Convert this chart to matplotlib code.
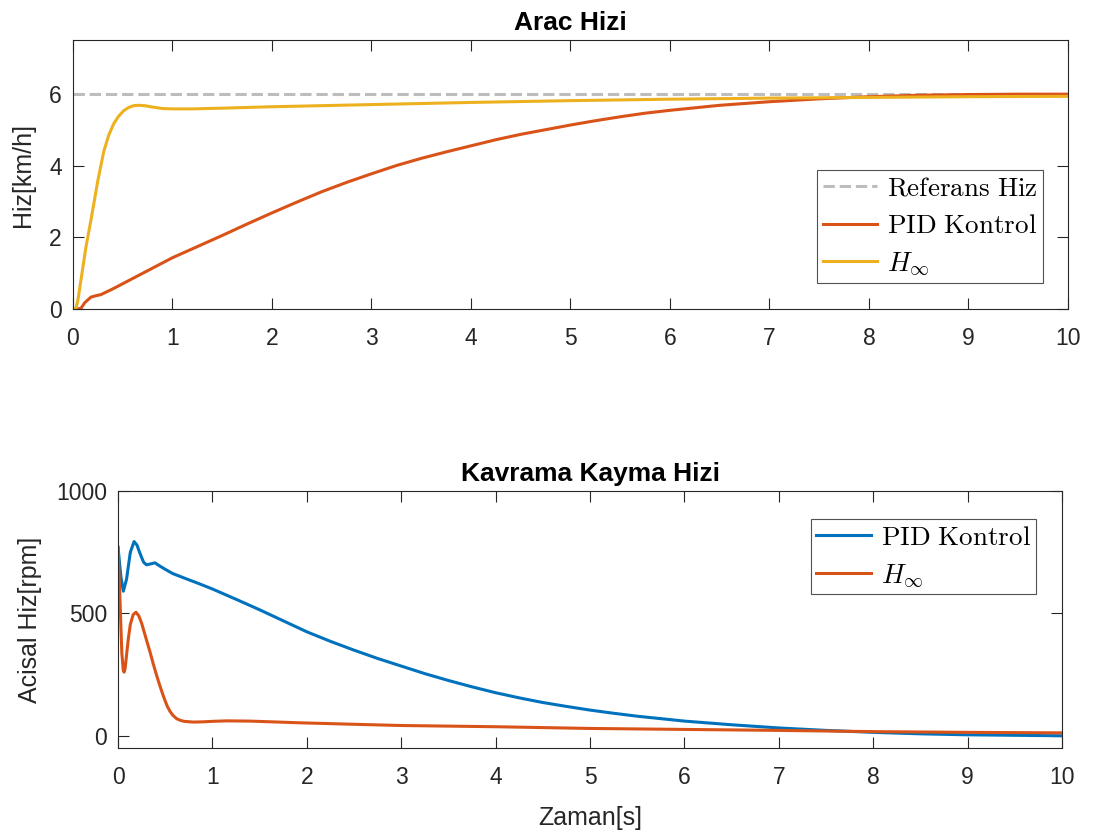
import matplotlib
matplotlib.use("Agg")
import matplotlib.pyplot as plt

# Style
plt.rcParams["font.family"] = ["Liberation Sans", "DejaVu Sans"]
plt.rcParams["mathtext.fontset"] = "cm"

c_blue = "#0072BD"
c_orange = "#D95319"
c_yellow = "#EDB120"
c_ref = "#BDBDBD"
c_axis = "#262626"

# Arac Hizi (km/h)
t_hinf_v = [0, 0.03, 0.05, 0.08, 0.13, 0.18, 0.25, 0.31, 0.36, 0.41, 0.46, 0.51, 0.56,
            0.61, 0.66, 0.72, 0.8, 0.9, 1.0, 1.2, 1.5, 2, 3, 4, 5, 6, 7, 8, 9, 10]
v_hinf = [0, 0.02, 0.25, 0.8, 1.72, 2.47, 3.58, 4.4, 4.85, 5.17, 5.38, 5.53, 5.62,
          5.67, 5.68, 5.67, 5.63, 5.59, 5.58, 5.58, 5.6, 5.64, 5.7, 5.76, 5.81,
          5.85, 5.88, 5.9, 5.92, 5.93]

t_pid_v = [0, 0.05, 0.08, 0.12, 0.18, 0.23, 0.28, 0.4, 0.6, 0.8, 1.0, 1.25, 1.5,
           1.75, 2, 2.25, 2.5, 2.75, 3, 3.25, 3.5, 3.75, 4, 4.25, 4.5, 4.75, 5,
           5.25, 5.5, 5.75, 6, 6.5, 7, 7.5, 8, 8.5, 9, 9.5, 10]
v_pid = [0, 0, 0.02, 0.18, 0.33, 0.37, 0.4, 0.56, 0.85, 1.14, 1.43, 1.74, 2.05,
         2.37, 2.68, 2.98, 3.27, 3.53, 3.77, 4.0, 4.2, 4.38, 4.55, 4.72, 4.87,
         5.0, 5.13, 5.25, 5.36, 5.46, 5.54, 5.68, 5.78, 5.86, 5.92, 5.96, 5.98,
         5.99, 5.99]

v_ref = 6.0

# Kavrama Kayma Hizi (rpm)
t_pid_w = [0, 0.03, 0.056, 0.09, 0.13, 0.17, 0.2, 0.23, 0.27, 0.3, 0.34, 0.39,
           0.45, 0.52, 0.58, 0.7, 0.85, 1.0, 1.25, 1.5, 1.75, 2, 2.25, 2.5, 2.75,
           3, 3.25, 3.5, 3.75, 4, 4.25, 4.5, 4.75, 5, 5.25, 5.5, 5.75, 6, 6.5,
           7, 7.5, 8, 8.5, 9, 9.5, 10]
w_pid = [770, 650, 591, 640, 750, 794, 780, 748, 710, 699, 702, 707, 692, 676,
         663, 645, 623, 600, 558, 515, 470, 425, 386, 350, 316, 285, 254, 226,
         200, 176, 155, 136, 120, 105, 92, 80, 70, 60, 45, 32, 22, 14, 8, 4, 2, 0]

t_hinf_w = [0, 0.02, 0.04, 0.055, 0.064, 0.075, 0.09, 0.11, 0.13, 0.16, 0.19,
            0.22, 0.25, 0.28, 0.31, 0.34, 0.37, 0.4, 0.43, 0.46, 0.49, 0.52,
            0.55, 0.58, 0.62, 0.66, 0.7, 0.8, 0.9, 1.0, 1.15, 1.4, 1.93, 2.5,
            3, 4, 5, 6, 7, 8, 9, 10]
w_hinf = [770, 560, 340, 268, 260, 275, 330, 400, 455, 495, 505, 490, 460, 420,
          380, 341, 298, 258, 220, 185, 152, 122, 100, 84, 70, 63, 59, 56, 57,
          59, 61, 60, 53, 47, 42, 37, 30, 26, 22, 17, 14, 12]

fig = plt.figure(figsize=(10.94, 8.34), dpi=100)
ax1 = fig.add_axes([0.0667, 0.6295, 0.9095, 0.3225])
ax2 = fig.add_axes([0.1079, 0.1031, 0.8629, 0.308])

lw = 2.2
ax1.plot([0, 10], [v_ref, v_ref], "--", color=c_ref, lw=lw, label=r"$\mathrm{Referans\ Hiz}$")
ax1.plot(t_pid_v, v_pid, color=c_orange, lw=lw, label=r"$\mathrm{PID\ Kontrol}$")
ax1.plot(t_hinf_v, v_hinf, color=c_yellow, lw=lw, label=r"$H_\infty$")
ax1.set_xlim(0, 10)
ax1.set_ylim(0, 7.5)
ax1.set_yticks([0, 2, 4, 6])
ax1.set_xticks(range(11))
ax1.set_title("Arac Hizi", fontsize=19, fontweight="bold", color="black", pad=7)
ax1.set_ylabel("Hiz[km/h]", fontsize=18, color=c_axis, labelpad=10)

ax2.plot(t_pid_w, w_pid, color=c_blue, lw=lw, label=r"$\mathrm{PID\ Kontrol}$")
ax2.plot(t_hinf_w, w_hinf, color=c_orange, lw=lw, label=r"$H_\infty$")
ax2.set_xlim(0, 10)
ax2.set_ylim(-50, 1000)
ax2.set_yticks([0, 500, 1000])
ax2.set_xticks(range(11))
ax2.set_title("Kavrama Kayma Hizi", fontsize=19, fontweight="bold", color="black", pad=7)
ax2.set_ylabel("Acisal Hiz[rpm]", fontsize=18, color=c_axis, labelpad=10)
ax2.set_xlabel("Zaman[s]", fontsize=18, color=c_axis, labelpad=12)

for ax in (ax1, ax2):
    ax.tick_params(direction="in", length=8, width=0.8, top=True, right=True,
                   labelsize=16.5, colors=c_axis)
    ax.tick_params(axis="x", pad=13)
    ax.tick_params(axis="y", pad=8)
    for s in ax.spines.values():
        s.set_color(c_axis)
        s.set_linewidth(0.8)

leg_kw = dict(fontsize=19.5, frameon=True, fancybox=False, borderpad=0.2,
              labelspacing=0.42, handlelength=2.0, handletextpad=0.37,
              borderaxespad=0)
leg1 = ax1.legend(loc="lower right", bbox_to_anchor=(0.975, 0.097), **leg_kw)
leg2 = ax2.legend(loc="upper right", bbox_to_anchor=(0.9725, 0.891), **leg_kw)
for leg in (leg1, leg2):
    leg.get_frame().set_edgecolor(c_axis)
    leg.get_frame().set_linewidth(0.8)

fig.savefig("out.png", dpi=100, facecolor="white")
